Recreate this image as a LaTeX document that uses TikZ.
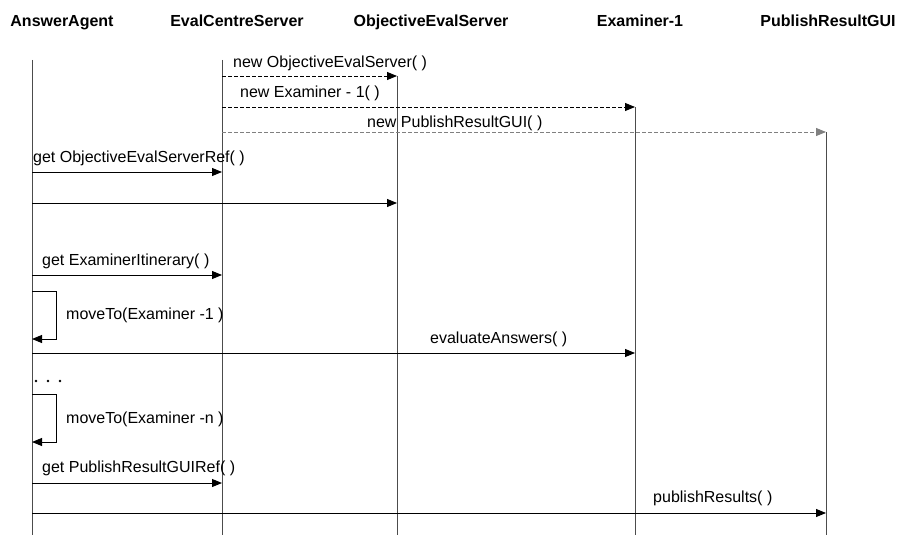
\documentclass[tikz,border=0pt]{standalone}
\usepackage{fontspec}
\setmainfont{Liberation Sans}
\usetikzlibrary{arrows.meta,calc}

\begin{document}
\begin{tikzpicture}[x=1pt,y=-1pt,
    head/.style={font=\fontsize{16}{19}\selectfont\bfseries,anchor=base,inner sep=0pt},
    lbl/.style={font=\fontsize{16}{19}\selectfont,anchor=base west,inner sep=0pt},
    life/.style={black!70,line width=0.9pt},
    msg/.style={-{Triangle[length=10pt,width=8pt]},line width=0.9pt},
    create/.style={msg,dash pattern=on 4pt off 2pt}]
        \useasboundingbox (0,0) rectangle (910,535);
        % Object headers
        \node[head] (agent) at (62,27) {AnswerAgent};
        \node[head] (centre) at (237,27) {EvalCentreServer};
        \node[head] (objeval) at (431,27) {ObjectiveEvalServer};
        \node[head] (examiner) at (640,27) {Examiner-1};
        \node[head] (gui) at (828,27) {PublishResultGUI};
        % Lifeline tops
        \coordinate (aa) at (32,60);
        \coordinate (ecs) at (222,60);
        \coordinate (oes) at (397,76);
        \coordinate (ex) at (635,107);
        \coordinate (prg) at (826,132);
        % Lifelines
        \foreach \c in {aa,ecs,oes,ex,prg}
            \draw[life] (\c) -- (\c |- 0,535);
        % Creation messages
        \draw[create] (ecs |- oes) -- (oes);
        \node[lbl] (m1) at (233,67) {new ObjectiveEvalServer( )};
        \draw[create] (ecs |- ex) -- (ex);
        \node[lbl] (m2) at (240,97) {new Examiner - 1( )};
        \draw[create, black!50] (ecs |- prg) -- (prg);
        \node[lbl] (m3) at (367,127) {new PublishResultGUI( )};
        % Calls from the agent
        \draw[msg] (aa |- 0,172) -- (ecs |- 0,172);
        \node[lbl] (m4) at (33,162) {get ObjectiveEvalServerRef( )};
        \draw[msg] (aa |- 0,203) -- (oes |- 0,203);
        \draw[msg] (aa |- 0,275) -- (ecs |- 0,275);
        \node[lbl] (m5) at (42,265) {get ExaminerItinerary( )};
        % Migration to the first examiner
        \draw[msg] (aa |- 0,291) -| (56,339) -- (aa |- 0,339);
        \node[lbl] (m6) at (66,319) {moveTo(Examiner -1 )};
        \draw[msg] (aa |- 0,353) -- (ex |- 0,353);
        \node[lbl] (m7) at (430,343) {evaluateAnswers( )};
        % Dots
        \foreach \x in {36,48,60}
            \fill (\x,381) circle (1.4pt);
        % Migration to the last examiner
        \draw[msg] (aa |- 0,394) -| (56,442) -- (aa |- 0,442);
        \node[lbl] (m8) at (66,423) {moveTo(Examiner -n )};
        \draw[msg] (aa |- 0,483) -- (ecs |- 0,483);
        \node[lbl] (m9) at (42,472) {get PublishResultGUIRef( )};
        \draw[msg] (aa |- 0,513) -- (prg |- 0,513);
        \node[lbl] (m10) at (653,502) {publishResults( )};
\end{tikzpicture}
\end{document}
